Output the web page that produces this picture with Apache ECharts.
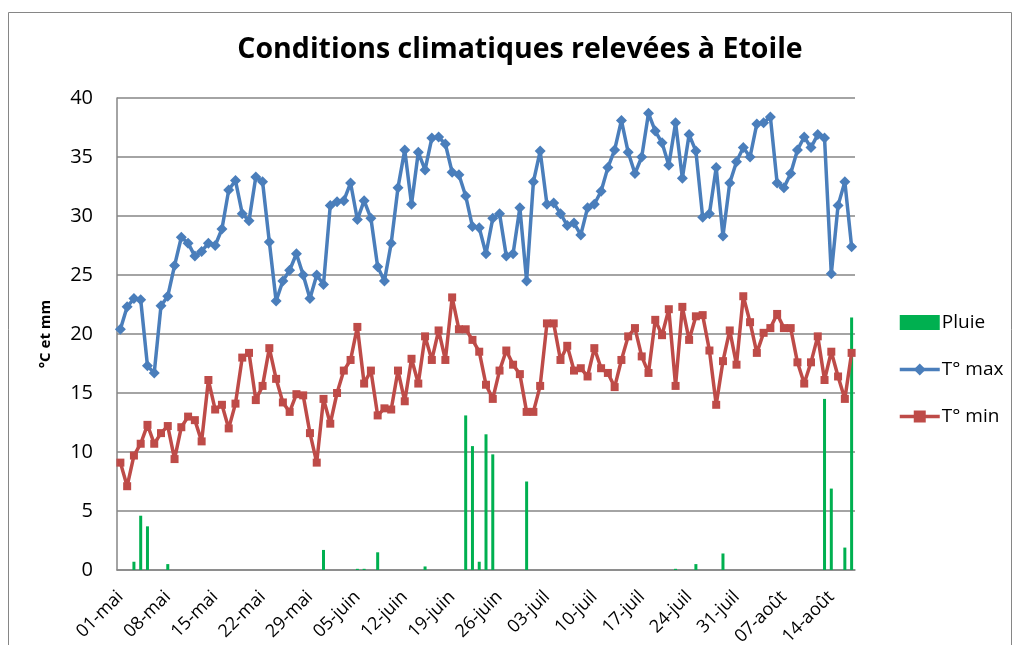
<!DOCTYPE html>
<html>
<head>
<meta charset="utf-8">
<script src="https://cdn.jsdelivr.net/npm/echarts@6/dist/echarts.min.js"></script>
<style>
html,body{margin:0;padding:0;background:#fff;}
#chart{width:1019px;height:645px;}
</style>
</head>
<body>
<div id="chart"></div>
<script>
// Category labels: daily dates from 01-mai to 17-août
const monthNames = ['mai', 'juin', 'juil', 'août'];
const monthDays = [31, 30, 31, 17];
const categories = [];
monthNames.forEach(function (m, k) {
  for (let d = 1; d <= monthDays[k]; d++) {
    categories.push((d < 10 ? '0' : '') + d + '-' + m);
  }
});

const yTicks = [0, 5, 10, 15, 20, 25, 30, 35, 40];

const tMax = [
  20.4, 22.3, 23.0, 22.9, 17.3, 16.7, 22.4, 23.2, 25.8, 28.2,
  27.7, 26.6, 27.0, 27.7, 27.5, 28.9, 32.2, 33.0, 30.2, 29.6,
  33.3, 32.9, 27.8, 22.8, 24.5, 25.4, 26.8, 25.0, 23.0, 25.0,
  24.2, 30.9, 31.2, 31.3, 32.8, 29.7, 31.3, 29.8, 25.7, 24.5,
  27.7, 32.4, 35.6, 31.0, 35.4, 33.9, 36.6, 36.7, 36.1, 33.7,
  33.5, 31.7, 29.1, 29.0, 26.8, 29.8, 30.2, 26.6, 26.8, 30.7,
  24.5, 32.9, 35.5, 31.0, 31.1, 30.2, 29.2, 29.4, 28.4, 30.7,
  31.0, 32.1, 34.1, 35.6, 38.1, 35.4, 33.6, 35.0, 38.7, 37.2,
  36.2, 34.3, 37.9, 33.2, 36.9, 35.5, 29.9, 30.2, 34.1, 28.3,
  32.8, 34.6, 35.8, 35.0, 37.8, 37.9, 38.4, 32.8, 32.4, 33.6,
  35.6, 36.7, 35.8, 36.9, 36.6, 25.1, 30.9, 32.9, 27.4
];

const tMin = [
  9.1, 7.1, 9.7, 10.7, 12.3, 10.7, 11.6, 12.2, 9.4, 12.1,
  13.0, 12.7, 10.9, 16.1, 13.6, 14.0, 12.0, 14.1, 18.0, 18.4,
  14.4, 15.6, 18.8, 16.2, 14.2, 13.4, 14.9, 14.8, 11.6, 9.1,
  14.5, 12.4, 15.0, 16.9, 17.8, 20.6, 15.8, 16.9, 13.1, 13.7,
  13.6, 16.9, 14.3, 17.9, 15.8, 19.8, 17.8, 20.3, 17.8, 23.1,
  20.4, 20.4, 19.5, 18.5, 15.7, 14.5, 16.9, 18.6, 17.4, 16.6,
  13.4, 13.4, 15.6, 20.9, 20.9, 17.8, 19.0, 16.9, 17.1, 16.4,
  18.8, 17.1, 16.7, 15.5, 17.8, 19.8, 20.5, 18.1, 16.7, 21.2,
  19.9, 22.1, 15.6, 22.3, 19.5, 21.5, 21.6, 18.6, 14.0, 17.7,
  20.3, 17.4, 23.2, 21.0, 18.4, 20.1, 20.5, 21.7, 20.5, 20.5,
  17.6, 15.8, 17.6, 19.8, 16.1, 18.5, 16.4, 14.5, 18.4
];

const pluie = [
  0, 0, 0.7, 4.6, 3.7, 0, 0, 0.5, 0, 0,
  0, 0, 0, 0, 0, 0, 0, 0, 0, 0,
  0, 0, 0, 0, 0, 0, 0, 0, 0, 0,
  1.7, 0, 0, 0, 0, 0.1, 0.1, 0, 1.5, 0,
  0, 0, 0, 0, 0, 0.3, 0, 0, 0, 0,
  0, 13.1, 10.5, 0.7, 11.5, 9.8, 0, 0, 0, 0,
  7.5, 0, 0, 0, 0, 0, 0, 0, 0, 0,
  0, 0, 0, 0, 0, 0, 0, 0, 0, 0,
  0, 0, 0.1, 0, 0, 0.5, 0, 0, 0, 1.4,
  0, 0, 0, 0, 0, 0, 0, 0, 0, 0,
  0, 0, 0, 0, 14.5, 6.9, 0, 1.9, 21.4
];

const FONT = 'Open Sans';
const chart = echarts.init(document.getElementById('chart'), null, {renderer: 'canvas'});
chart.setOption({
  animation: false,
  backgroundColor: '#ffffff',
  title: {
    text: 'Conditions climatiques relevées à Etoile',
    left: 515, top: 30, textAlign: 'center',
    textStyle: {fontFamily: FONT, fontWeight: 'bold', fontSize: 28.5, color: '#000'}
  },
  graphic: [{
    type: 'rect', silent: true, z: -1,
    shape: {x: 8.5, y: 12.5, width: 1003, height: 660},
    style: {fill: 'none', stroke: '#868686', lineWidth: 1}
  }],
  legend: {
    orient: 'vertical', left: 893, top: 308, itemGap: 28,
    itemWidth: 40, itemHeight: 15,
    lineStyle: {width: 3.5},
    textStyle: {fontFamily: FONT, fontSize: 19, color: '#000', padding: [0, 0, 0, -3]},
    data: [
      {name: 'Pluie', icon: 'rect'},
      {name: 'T° max'},
      {name: 'T° min'}
    ]
  },
  grid: {left: 117, right: 164, top: 98, bottom: 75, containLabel: false, outerBoundsMode: 'none'},
  xAxis: {
    type: 'category', data: categories, boundaryGap: true,
    axisLine: {lineStyle: {color: '#868686', width: 1.5}},
    axisTick: {show: false},
    axisLabel: {interval: 6, rotate: 45, fontFamily: FONT, fontSize: 18, color: '#000', margin: 24}
  },
  yAxis: {
    type: 'value', min: yTicks[0], max: yTicks[yTicks.length - 1], interval: 5,
    name: '°C et mm', nameLocation: 'middle', nameGap: 64,
    nameTextStyle: {fontFamily: FONT, fontWeight: 'bold', fontSize: 15, color: '#000'},
    axisLine: {show: true, lineStyle: {color: '#868686', width: 1.5}},
    axisTick: {show: false},
    splitLine: {lineStyle: {color: '#868686', width: 1.5}},
    axisLabel: {fontFamily: FONT, fontSize: 20, color: '#000', margin: 24}
  },
  series: [{
    name: 'Pluie', type: 'bar', data: pluie, barWidth: 3,
    itemStyle: {color: '#00B050'}
  }, {
    name: 'T° max', type: 'line', data: tMax,
    symbol: 'diamond', symbolSize: 11, showAllSymbol: true,
    lineStyle: {color: '#4A7EBB', width: 3.5},
    itemStyle: {color: '#4A7EBB'}
  }, {
    name: 'T° min', type: 'line', data: tMin,
    symbol: 'rect', symbolSize: 8, showAllSymbol: true,
    lineStyle: {color: '#BE4B48', width: 3.5},
    itemStyle: {color: '#BE4B48'}
  }]
});
</script>
</body>
</html>
